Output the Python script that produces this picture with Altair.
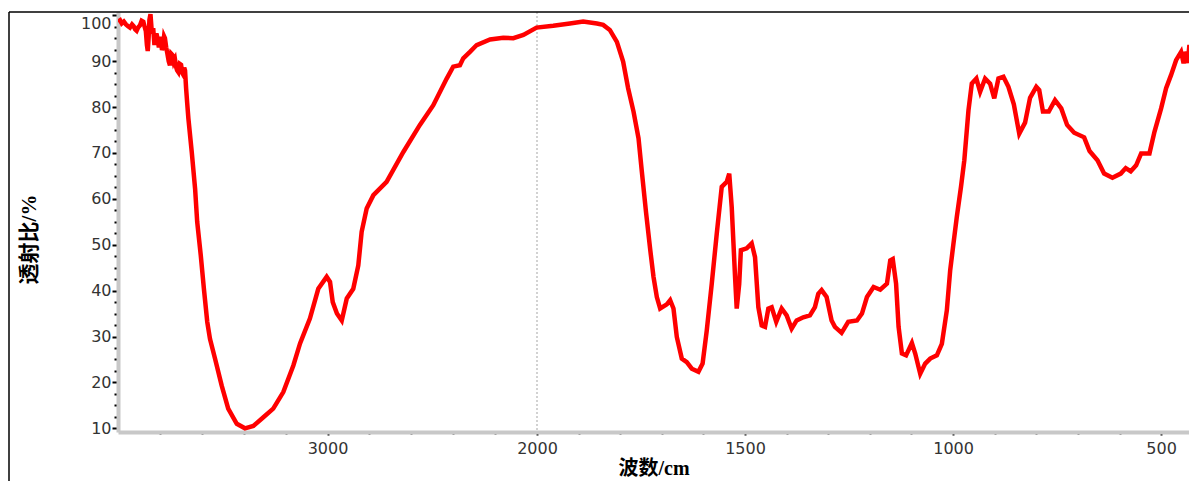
import pandas as pd
import altair as alt

# FTIR spectrum: wavenumber (cm-1) and transmittance (%)
wavenumber = [
    4000, 3990, 3982, 3972, 3962, 3952, 3943, 3933, 3925, 3918, 3911, 3903,
    3895, 3887, 3879, 3873, 3867, 3862, 3858, 3854, 3850, 3845, 3838, 3832,
    3826, 3820, 3815, 3810, 3805, 3800, 3795, 3790, 3785, 3780, 3776, 3770,
    3765, 3758, 3752, 3746, 3740, 3734, 3728, 3722, 3718, 3712, 3705, 3699,
    3693, 3688, 3684, 3680, 3675, 3670, 3664, 3648, 3632, 3622, 3605, 3590,
    3574, 3561, 3537, 3505, 3474, 3433, 3394, 3354, 3306, 3259, 3211, 3163,
    3131, 3084, 3044, 3004, 2988, 2975, 2955, 2932, 2908, 2877, 2853, 2837,
    2813, 2781, 2718, 2638, 2559, 2495, 2431, 2400, 2368, 2352, 2320, 2288,
    2224, 2161, 2113, 2065, 2002, 1961, 1921, 1889, 1856, 1841, 1825, 1808,
    1793, 1781, 1768, 1756, 1748, 1738, 1728, 1720, 1712, 1704, 1688, 1680,
    1672, 1664, 1652, 1640, 1628, 1612, 1602, 1592, 1580, 1568, 1556, 1544,
    1538, 1532, 1524, 1520, 1514, 1510, 1496, 1484, 1476, 1468, 1460, 1452,
    1444, 1436, 1425, 1412, 1400, 1388, 1376, 1360, 1344, 1332, 1324, 1316,
    1304, 1292, 1284, 1268, 1252, 1231, 1219, 1207, 1191, 1175, 1159, 1151,
    1145, 1137, 1131, 1123, 1113, 1099, 1091, 1079, 1067, 1055, 1039, 1027,
    1015, 1007, 999, 991, 981, 973, 963, 955, 944, 935, 923, 911,
    901, 891, 879, 867, 854, 841, 827, 815, 800, 793, 784, 770,
    755, 740, 726, 709, 685, 672, 653, 637, 617, 597, 585, 573,
    560, 548, 528, 516, 500, 488, 476, 464, 452, 448, 446, 443,
    440, 436, 432, 430, 428, 424, 420, 416, 412,
]
transmittance = [
    98.6, 98.9, 98.2, 98.6, 98.0, 97.6, 97.3, 98.0, 97.6, 96.9, 96.6, 97.4,
    97.8, 98.8, 98.6, 97.5, 96.5, 93.5, 92.2, 95.0, 99.0, 100.2, 96.0, 97.2,
    93.5, 95.8, 95.7, 94.6, 93.0, 95.3, 94.5, 92.4, 93.2, 95.4, 95.0, 93.0,
    91.8, 90.0, 89.1, 91.6, 91.3, 89.8, 90.4, 88.6, 88.0, 87.6, 89.4, 89.2,
    87.4, 87.0, 88.6, 88.0, 84.1, 81.0, 77.5, 70.2, 62.2, 55.0, 47.7, 40.4,
    33.2, 29.5, 25.2, 19.3, 14.3, 11.0, 10.0, 10.5, 12.4, 14.3, 17.9, 23.7,
    28.5, 33.9, 40.4, 43.0, 41.9, 37.5, 35.0, 33.5, 38.3, 40.4, 45.5, 52.8,
    57.9, 60.8, 63.7, 70.2, 76.1, 80.4, 86.2, 88.8, 89.1, 90.6, 92.0, 93.5,
    94.7, 95.1, 95.0, 95.7, 97.3, 97.7, 98.2, 98.6, 98.2, 97.9, 96.8, 94.2,
    89.9, 84.1, 79.0, 73.2, 65.9, 57.1, 49.0, 43.0, 38.6, 36.1, 37.0, 37.9,
    36.1, 29.9, 25.2, 24.4, 23.0, 22.3, 24.1, 31.3, 41.5, 52.4, 62.6, 63.7,
    65.5, 58.2, 43.0, 36.1, 41.5, 48.8, 49.2, 50.3, 47.3, 36.4, 32.4, 32.1,
    36.1, 36.4, 33.2, 36.1, 34.6, 31.7, 33.5, 34.2, 34.6, 36.4, 39.3, 40.1,
    38.6, 33.5, 32.1, 30.8, 33.2, 33.5, 35.0, 38.6, 40.8, 40.2, 41.5, 46.6,
    46.9, 41.5, 32.1, 26.3, 25.9, 28.6, 26.3, 21.9, 24.1, 25.2, 25.9, 28.4,
    35.7, 44.4, 50.3, 56.1, 62.6, 68.4, 79.3, 85.1, 86.2, 83.3, 86.2, 85.1,
    81.9, 86.2, 86.6, 84.4, 80.6, 74.2, 76.6, 82.0, 84.4, 83.7, 79.0, 79.0,
    81.5, 79.7, 76.1, 74.4, 73.4, 70.4, 68.4, 65.5, 64.6, 65.5, 66.7, 66.0,
    67.3, 69.9, 69.9, 74.6, 79.7, 84.1, 87.0, 90.2, 92.0, 90.4, 89.5, 92.0,
    91.3, 89.6, 93.5, 91.0, 90.0, 89.9, 96.4, 94.0, 97.9,
]

x_major = [3000, 2000, 1500, 1000, 500]
x_minor = [3800, 3600, 3400, 3200, 2800, 2600, 2400, 2200,
           1900, 1800, 1700, 1600, 1400, 1300, 1200, 1100,
           900, 800, 700, 600]
y_major = [10, 20, 30, 40, 50, 60, 70, 80, 90, 100]
y_minor = [12.5, 15, 17.5, 22.5, 25, 27.5, 32.5, 35, 37.5, 42.5, 45, 47.5,
           52.5, 55, 57.5, 62.5, 65, 67.5, 72.5, 75, 77.5, 82.5, 85, 87.5,
           92.5, 95, 97.5]

W, H = 1071, 420

spectrum = pd.DataFrame({"wn": wavenumber, "t": transmittance})
marker = pd.DataFrame({"wn": [2000]})

# wavenumber axis is compressed above 2000 cm-1
x_scale = alt.Scale(domain=[4000, 2000, 433], range=[0, 419, W], nice=False, zero=False)
y_scale = alt.Scale(domain=[9.2, 100.7], nice=False, zero=False)

label_font = "DejaVu Sans"
title_font = "Liberation Serif, Noto Sans CJK SC"

line = alt.Chart(spectrum).mark_line(color="#ff0000", strokeWidth=4.5, clip=True).encode(
    x=alt.X("wn:Q", scale=x_scale, axis=alt.Axis(
        orient="bottom", values=x_major, format="d", grid=False,
        domainColor="#c8c8c8", domainWidth=4,
        tickColor="#000000", tickSize=3, tickWidth=2,
        labelFont=label_font, labelFontSize=16, labelColor="#333333", labelPadding=5,
        title="波数/cm", titleFont=title_font, titleFontSize=20, titleFontWeight="bold",
        titleColor="#000000", titleY=26, titleBaseline="top",
    )),
    y=alt.Y("t:Q", scale=y_scale, axis=alt.Axis(
        orient="left", values=y_major, grid=False,
        domainColor="#c8c8c8", domainWidth=4,
        tickColor="#000000", tickSize=6, tickWidth=2,
        labelFont=label_font, labelFontSize=16, labelColor="#333333", labelPadding=1,
        # the top label sits just below its tick, as in the original
        labelBaseline={"condition": {"test": "datum.value === 100", "value": "top"}, "value": "middle"},
        title="透射比/%", titleFont=title_font, titleFontSize=21, titleFontWeight="bold",
        titleColor="#000000", titleX=-89, titleY=227, titleAngle=270,
        titleAlign="center", titleBaseline="middle",
    )),
)

minor = alt.Chart(spectrum).mark_line(opacity=0).encode(
    x=alt.X("wn:Q", scale=x_scale, axis=alt.Axis(
        orient="bottom", values=x_minor, labels=False, domain=False, grid=False,
        tickColor="#000000", tickSize=2, tickWidth=2, title="",
    )),
    y=alt.Y("t:Q", scale=y_scale, axis=alt.Axis(
        orient="left", values=y_minor, labels=False, domain=False, grid=False,
        tickColor="#000000", tickSize=4, tickWidth=2, title="",
    )),
)

guide = alt.Chart(marker).mark_rule(color="#c4c4c4", strokeWidth=1.5, strokeDash=[2, 2]).encode(
    x=alt.X("wn:Q", scale=x_scale, axis=None),
)

frame_top = alt.Chart(marker).mark_rule(color="#000000", strokeWidth=1.5).encode(
    x=alt.value(-109), x2=alt.value(W), y=alt.value(0),
)
frame_left = alt.Chart(marker).mark_rule(color="#000000", strokeWidth=1.5).encode(
    x=alt.value(-109), y=alt.value(0), y2=alt.value(H + 60),
)

chart = (
    alt.layer(guide, minor, line, frame_top, frame_left)
    .resolve_axis(x="independent", y="independent")
    .properties(
        width=W, height=H,
        padding={"left": 110, "top": 4, "right": 0, "bottom": 49},
        autosize="none",
    )
    .configure_view(strokeWidth=0)
)

chart.save("out.html", embed_options={"renderer": "svg", "actions": False})
